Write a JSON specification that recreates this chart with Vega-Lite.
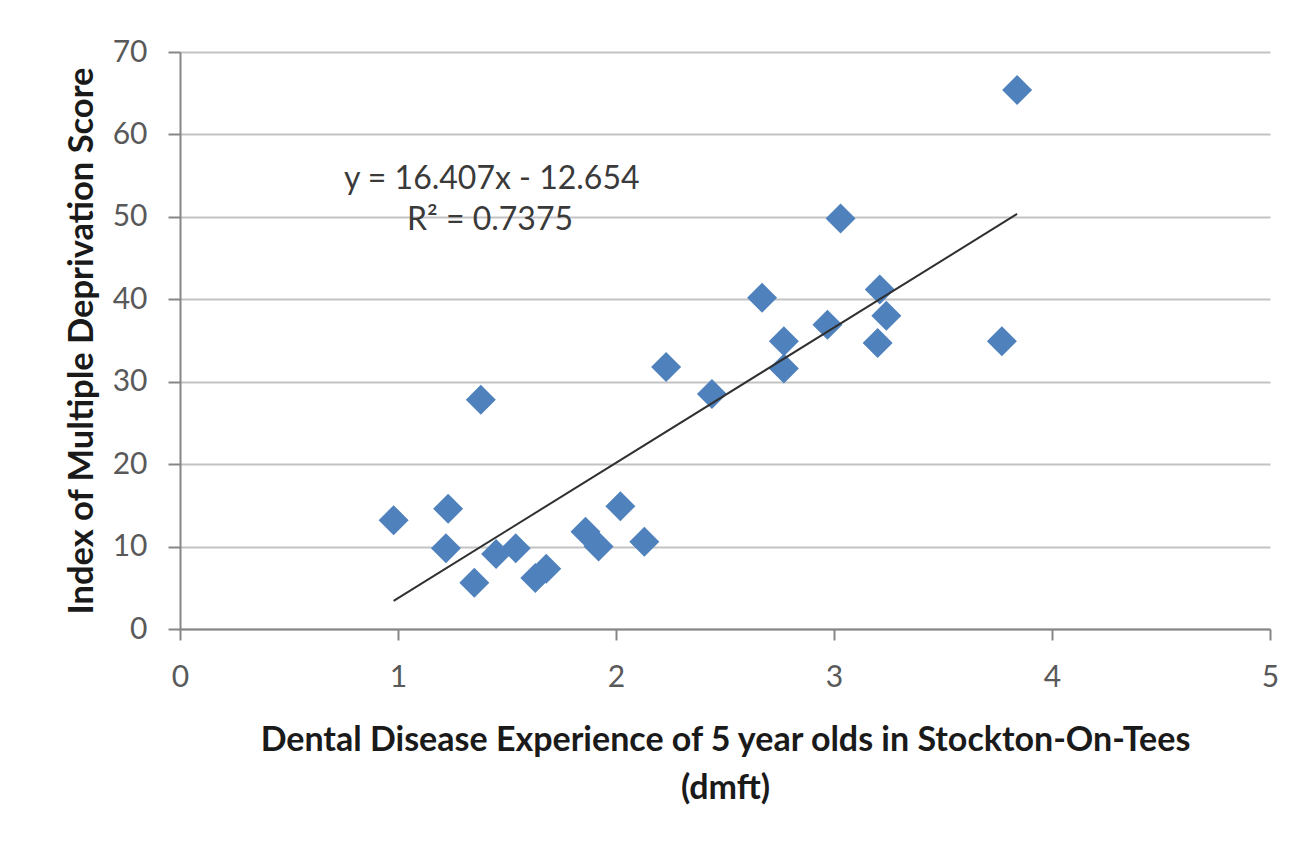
{
  "$schema": "https://vega.github.io/schema/vega-lite/v6.json",
  "width": 1090,
  "height": 577,
  "autosize": {"type": "none"},
  "padding": {"left": 180, "top": 52, "right": 33, "bottom": 225},
  "background": "white",
  "config": {"view": {"stroke": null}, "font": "Lato"},
  "datasets": {
    "points": [
      {"dmft": 0.98, "imd": 13.2},
      {"dmft": 1.23, "imd": 14.6},
      {"dmft": 1.22, "imd": 9.8},
      {"dmft": 1.38, "imd": 27.8},
      {"dmft": 1.35, "imd": 5.6},
      {"dmft": 1.45, "imd": 9.1},
      {"dmft": 1.54, "imd": 9.8},
      {"dmft": 1.63, "imd": 6.2},
      {"dmft": 1.68, "imd": 7.3},
      {"dmft": 1.86, "imd": 11.8},
      {"dmft": 1.92, "imd": 10.0},
      {"dmft": 2.02, "imd": 14.9},
      {"dmft": 2.13, "imd": 10.6},
      {"dmft": 2.23, "imd": 31.8},
      {"dmft": 2.44, "imd": 28.5},
      {"dmft": 2.67, "imd": 40.2},
      {"dmft": 2.77, "imd": 34.9},
      {"dmft": 2.77, "imd": 31.6},
      {"dmft": 2.97, "imd": 36.9},
      {"dmft": 3.03, "imd": 49.8},
      {"dmft": 3.21, "imd": 41.2},
      {"dmft": 3.24, "imd": 38.0},
      {"dmft": 3.20, "imd": 34.7},
      {"dmft": 3.77, "imd": 34.9},
      {"dmft": 3.84, "imd": 65.4}
    ],
    "trend": [
      {"dmft": 0.98, "imd": 3.42},
      {"dmft": 3.84, "imd": 50.35}
    ]
  },
  "layer": [
    {
      "data": {"name": "points"},
      "mark": {"type": "point", "shape": "diamond", "filled": true, "size": 900, "color": "#4F81BD", "opacity": 1},
      "encoding": {
        "x": {
          "field": "dmft", "type": "quantitative",
          "scale": {"domain": [0, 5], "nice": false, "zero": true},
          "axis": {
            "values": [0, 1, 2, 3, 4, 5],
            "format": "d",
            "labelFlush": false,
            "grid": false,
            "domainColor": "#868686", "domainWidth": 2,
            "tickColor": "#868686", "tickWidth": 2, "tickSize": 11,
            "labelFontSize": 30, "labelColor": "#595959", "labelPadding": 22,
            "labelFont": "Lato",
            "title": ["Dental Disease Experience of 5 year olds in Stockton-On-Tees", "(dmft)"],
            "titleFont": "Lato", "titleFontSize": 34, "titleFontWeight": "bold", "titleColor": "#1a1a1a",
            "titlePadding": 31, "titleLineHeight": 48
          }
        },
        "y": {
          "field": "imd", "type": "quantitative",
          "scale": {"domain": [0, 70], "nice": false},
          "axis": {
            "values": [0, 10, 20, 30, 40, 50, 60, 70],
            "grid": true, "gridColor": "#c3c3c3", "gridWidth": 2,
            "domainColor": "#868686", "domainWidth": 2,
            "tickColor": "#868686", "tickWidth": 2, "tickSize": 12,
            "labelFontSize": 30, "labelColor": "#595959", "labelPadding": 21,
            "labelFont": "Lato",
            "title": "Index of Multiple Deprivation Score",
            "titleFont": "Lato", "titleFontSize": 34.5, "titleFontWeight": "bold", "titleColor": "#1a1a1a",
            "titlePadding": 13
          }
        }
      }
    },
    {
      "data": {"name": "trend"},
      "mark": {"type": "line", "color": "#303030", "strokeWidth": 2},
      "encoding": {
        "x": {"field": "dmft", "type": "quantitative"},
        "y": {"field": "imd", "type": "quantitative"}
      }
    },
    {
      "data": {"values": [{"label": "y = 16.407x - 12.654"}]},
      "mark": {"type": "text", "font": "Lato", "fontSize": 32, "color": "#3a3a3a", "align": "center", "baseline": "middle"},
      "encoding": {
        "x": {"datum": 1.43, "type": "quantitative"},
        "y": {"datum": 54.6, "type": "quantitative"},
        "text": {"field": "label", "type": "nominal"}
      }
    },
    {
      "data": {"values": [{"label": "R² = 0.7375"}]},
      "mark": {"type": "text", "font": "Lato", "fontSize": 32, "color": "#3a3a3a", "align": "center", "baseline": "middle"},
      "encoding": {
        "x": {"datum": 1.422, "type": "quantitative"},
        "y": {"datum": 49.6, "type": "quantitative"},
        "text": {"field": "label", "type": "nominal"}
      }
    }
  ]
}
